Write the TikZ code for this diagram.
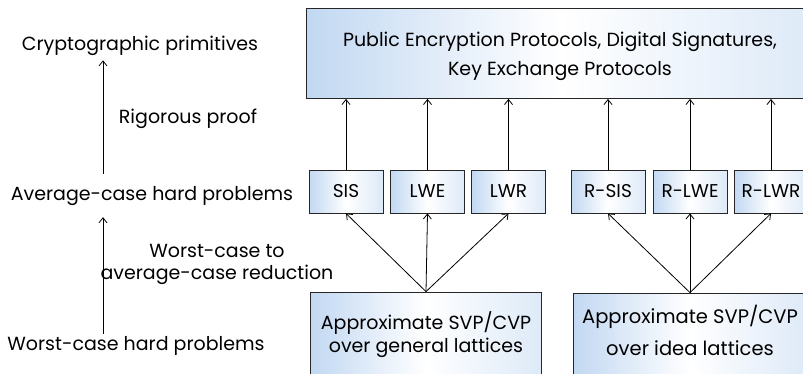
\documentclass[tikz,border=0pt]{standalone}
\usepackage{fontspec}
\setmainfont{Poppins}
\usetikzlibrary{arrows.meta,
                positioning
            }
\definecolor{boxblue}{HTML}{C2D8F2}
\tikzset{
    shadebox/.style={draw=black!85, line width=0.8pt, left color=boxblue,
        right color=boxblue!55, middle color=white, align=center},
    probbox/.style={shadebox, minimum width=74pt, minimum height=43pt, font=\fontsize{18.5}{20}\selectfont},
    lbl/.style={font=\fontsize{19}{22}\selectfont, align=center},
    arr/.style={-{Straight Barb[length=5pt,width=8pt]}, line width=0.8pt}
}
\begin{document}
\begin{tikzpicture}[x=1pt, y=-1pt]
            \clip (0,0) rectangle (803,373);
            \fill[white] (0,0) rectangle (803,373);
            % left column
            \node[lbl] (prim) at (140, 46) {Cryptographic primitives};
            \node[lbl] (avg) at (152, 196) {Average-case hard problems};
            \node[lbl] (worst) at (136, 346) {Worst-case hard problems};
            \node[lbl] (proof) at (188, 119) {Rigorous proof};
            \node[lbl] (red) at (217, 264) {Worst-case to\\average-case reduction};
            \coordinate (axis) at (103, 0);
            \draw[arr, shorten <=9pt, shorten >=1pt] (avg.north -| axis) -- (prim.south -| axis);
            \draw[arr, shorten <=-1pt, shorten >=8pt] (worst.north -| axis) -- (avg.south -| axis);
            % top box
            \node[shadebox, minimum width=508pt, minimum height=90pt, font=\fontsize{19}{23}\selectfont] (proto) at (560, 53.5)
                {\rule{0pt}{20pt}Public Encryption Protocols, Digital Signatures,\\[6pt]Key Exchange Protocols};
            % average-case problems
            \node[probbox] (sis) at (346, 191.5) {SIS};
            \node[probbox] (lwe) at (427.5, 191.5) {LWE};
            \node[probbox] (lwr) at (508.5, 191.5) {LWR};
            \node[probbox] (rsis) at (608, 191.5) {R-SIS};
            \node[probbox] (rlwe) at (690, 191.5) {R-LWE};
            \node[probbox] (rlwr) at (771, 191.5) {R-LWR};
            % worst-case problems
            \node[shadebox, minimum width=231pt, minimum height=86pt, font=\fontsize{19}{23}\selectfont] (gen) at (426, 335)
                {Approximate SVP/CVP\\over general lattices};
            \node[shadebox, minimum width=234pt, minimum height=82pt, font=\fontsize{19.5}{32}\selectfont] (ideal) at (690, 334)
                {Approximate SVP/CVP\\over idea lattices\rule[-7pt]{0pt}{1pt}};
            \foreach \p in {sis, lwe, lwr, rsis, rlwe, rlwr}
                \draw[arr] (\p.north) -- (\p.north |- proto.south);
            \foreach \p in {sis, lwe, lwr}
                \draw[arr] (gen.north) -- (\p.south);
            \foreach \p in {rsis, rlwe, rlwr}
                \draw[arr] (ideal.north) -- (\p.south);
        \end{tikzpicture}
\end{document}
